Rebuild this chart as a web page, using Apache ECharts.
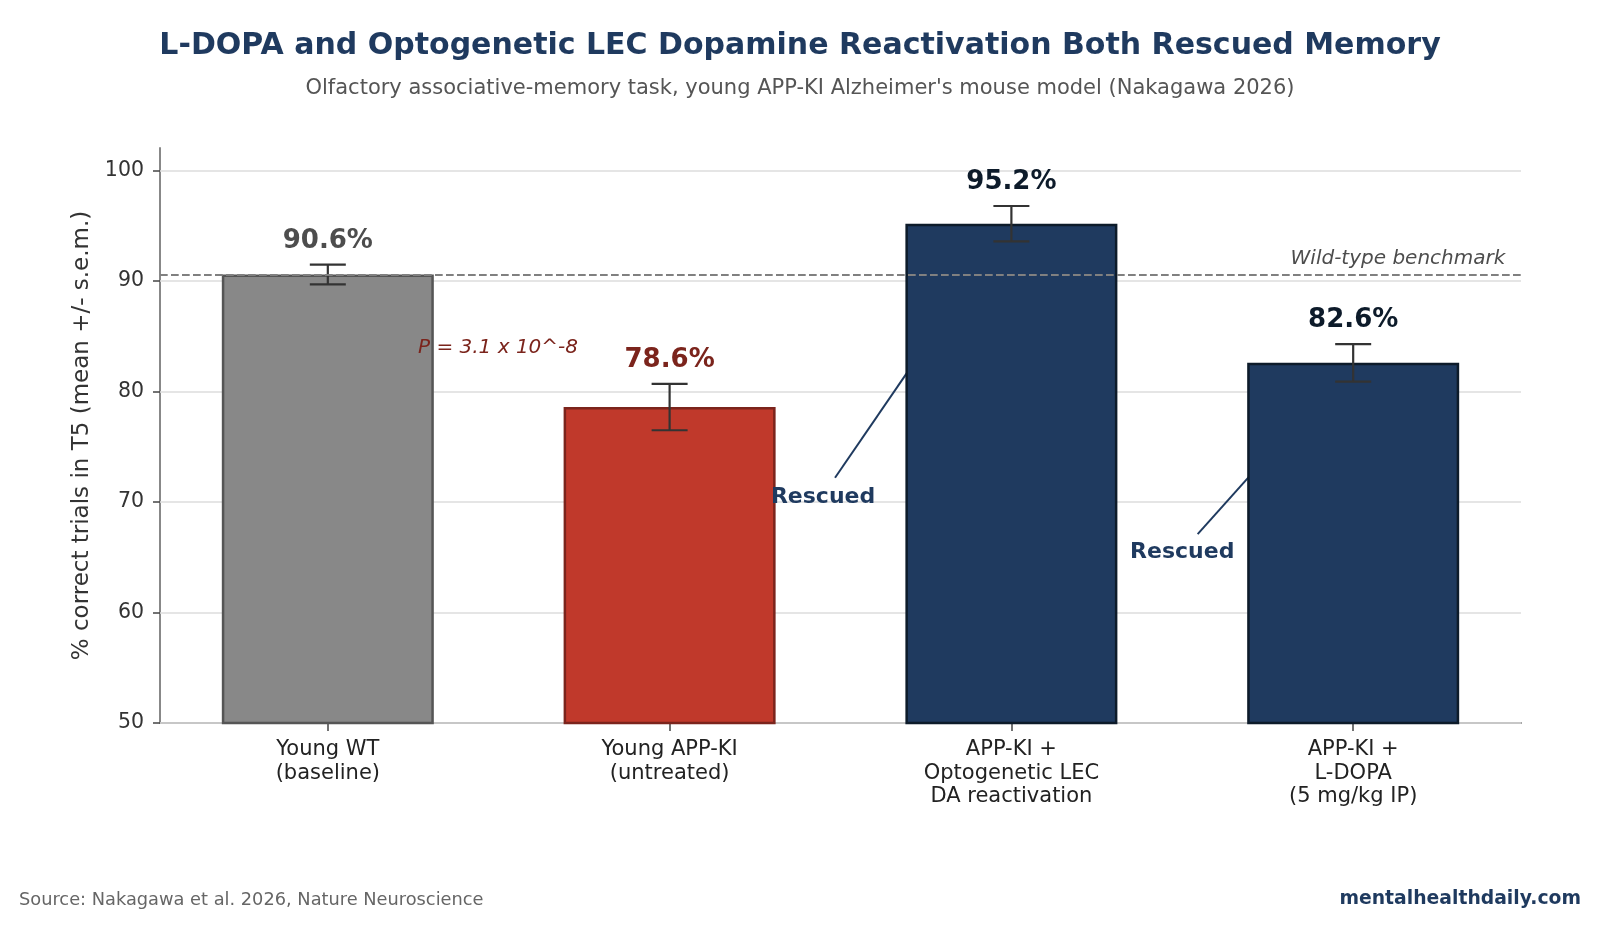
<!DOCTYPE html>
<html>
<head>
<meta charset="UTF-8">
<title>L-DOPA rescue</title>
<style>html,body{margin:0;padding:0;background:#fff;}#chart{width:1600px;height:928px;}</style>
</head>
<body>
<div id="chart"></div>
<script src="https://cdn.jsdelivr.net/npm/echarts@6/dist/echarts.min.js"></script>
<script>
// data
var groups = ['Young WT\n(baseline)', 'Young APP-KI\n(untreated)', 'APP-KI +\nOptogenetic LEC\nDA reactivation', 'APP-KI +\nL-DOPA\n(5 mg/kg IP)'];
var means = [90.6, 78.6, 95.2, 82.6];
var sems = [0.9, 2.1, 1.6, 1.7];
var yTicks = [50, 60, 70, 80, 90, 100];
var xTicks = [0, 1, 2, 3];
var wtBenchmark = 90.6;

// bar styles
var fills = ['#888888', '#c0392b', '#1f3a5f', '#1f3a5f'];
var edges = ['#555555', '#7b241c', '#0d1b2a', '#0d1b2a'];
var labelColors = ['#4d4d4d', '#7b241c', '#0d1b2a', '#0d1b2a'];

// annotations (x in bar-index units, y in % correct)
var rescueLines = [
  [[1.484, 72.2], [1.71, 82.4]],
  [[2.545, 67.1], [2.71, 72.8]]
];
var rescueText = [[1.449, 70.4], [2.5, 65.45]];
var pText = [0.498, 83.95];
var benchText = [3.445, 92.0];

var font = 'DejaVu Sans';
var chart = echarts.init(document.getElementById('chart'));

var barData = means.map(function (v, i) {
  return {value: [xTicks[i], v], itemStyle: {color: fills[i], borderColor: edges[i], borderWidth: 2.5}};
});
var errData = means.map(function (v, i) {
  return [xTicks[i], v - sems[i], v + sems[i], v];
});
var gridLines = yTicks.map(function (t) { return {yAxis: t}; });

var noteLabel = function (text, size, weight, style, color, pos) {
  return {show: true, position: pos || 'inside', distance: 0, formatter: text,
    fontFamily: font, fontSize: size, fontWeight: weight, fontStyle: style, color: color};
};

var series = [
  // horizontal grid lines, behind the bars
  {
    type: 'line', data: [], z: 0, silent: true,
    markLine: {
      symbol: 'none', silent: true, animation: false, z: 1,
      label: {show: false},
      lineStyle: {color: '#dddddd', width: 1.5, type: 'solid'},
      data: gridLines
    }
  },
  // arrows of the "Rescued" notes (tails hidden by the bars)
  {
    type: 'line', z: 1, silent: true, symbol: 'none',
    data: rescueLines[0], lineStyle: {color: '#1f3a5f', width: 2}
  },
  {
    type: 'line', z: 1, silent: true, symbol: 'none',
    data: rescueLines[1], lineStyle: {color: '#1f3a5f', width: 2}
  },
  {
    type: 'bar', data: barData, barWidth: 212, z: 2, silent: true
  },
  // error bars + value labels
  {
    type: 'custom', z: 4, silent: true,
    data: errData,
    renderItem: function (params, api) {
      var i = params.dataIndex;
      var top = api.coord([api.value(0), api.value(2)]);
      var bot = api.coord([api.value(0), api.value(1)]);
      var hw = 18;
      var st = {stroke: '#333333', lineWidth: 2.2};
      return {
        type: 'group',
        children: [
          {type: 'line', shape: {x1: top[0], y1: top[1], x2: bot[0], y2: bot[1]}, style: st},
          {type: 'line', shape: {x1: top[0] - hw, y1: top[1], x2: top[0] + hw, y2: top[1]}, style: st},
          {type: 'line', shape: {x1: bot[0] - hw, y1: bot[1], x2: bot[0] + hw, y2: bot[1]}, style: st},
          {type: 'text', style: {
            text: api.value(3).toFixed(1) + '%', x: top[0], y: top[1] - 23.5,
            align: 'center', verticalAlign: 'middle',
            font: 'bold 26px "' + font + '"', fill: labelColors[i]
          }}
        ]
      };
    },
    markLine: {
      symbol: 'none', silent: true, animation: false,
      label: {show: false},
      lineStyle: {color: '#808080', width: 2, type: [7.7, 3.3]},
      data: [{yAxis: wtBenchmark}]
    }
  },
  // text notes
  {
    type: 'scatter', z: 5, silent: true, symbolSize: 0, itemStyle: {opacity: 1},
    data: rescueText,
    label: noteLabel('Rescued', 22, 'bold', 'normal', '#1f3a5f')
  },
  {
    type: 'scatter', z: 5, silent: true, symbolSize: 0, itemStyle: {opacity: 1},
    data: [pText],
    label: noteLabel('P = 3.1 x 10^-8', 20, 'normal', 'italic', '#7b241c')
  },
  {
    type: 'scatter', z: 5, silent: true, symbolSize: 0, itemStyle: {opacity: 1},
    data: [benchText],
    label: noteLabel('Wild-type benchmark', 20, 'normal', 'italic', '#4d4d4d', 'left')
  }
];

var option = {
  backgroundColor: '#ffffff',
  animation: false,
  textStyle: {fontFamily: font},
  title: [
    {
      text: 'L-DOPA and Optogenetic LEC Dopamine Reactivation Both Rescued Memory',
      left: 'center', top: 26,
      textStyle: {fontFamily: font, fontSize: 30, fontWeight: 'bold', color: '#1f3a5f'}
    },
    {
      text: "Olfactory associative-memory task, young APP-KI Alzheimer's mouse model (Nakagawa 2026)",
      left: 'center', top: 73,
      textStyle: {fontFamily: font, fontSize: 21, fontWeight: 'normal', color: '#555555'}
    }
  ],
  grid: {left: 160, right: 79, top: 148, bottom: 205, containLabel: false},
  xAxis: {
    type: 'value', min: -0.491, max: 3.491,
    axisLine: {show: true, onZero: false, lineStyle: {color: '#888888', width: 2}},
    axisTick: {show: true, length: 8, lineStyle: {color: '#444444', width: 1.5}, customValues: xTicks},
    axisLabel: {fontFamily: font, fontSize: 21, color: '#222222', lineHeight: 23.5, margin: 15,
      customValues: xTicks, formatter: function (v) { return groups[Math.round(v)]; }},
    splitLine: {show: false}
  },
  yAxis: {
    type: 'value', min: 50, max: 102.05,
    name: '% correct trials in T5 (mean +/- s.e.m.)',
    nameLocation: 'middle', nameGap: 65, nameRotate: 90,
    nameTextStyle: {fontFamily: font, fontSize: 23, color: '#333333'},
    axisLine: {show: true, onZero: false, lineStyle: {color: '#888888', width: 2}},
    axisTick: {show: true, length: 7, lineStyle: {color: '#444444', width: 1.5}, customValues: yTicks},
    axisLabel: {fontFamily: font, fontSize: 20.5, color: '#333333', margin: 16, customValues: yTicks},
    splitLine: {show: false}
  },
  graphic: [
    {type: 'text', x: 19, y: 900,
      style: {text: 'Source: Nakagawa et al. 2026, Nature Neuroscience', font: '17.8px "' + font + '"',
        fill: '#666666', verticalAlign: 'middle'}},
    {type: 'text', x: 1581, y: 899,
      style: {text: 'mentalhealthdaily.com', font: 'bold 18.8px "' + font + '"',
        fill: '#1f3a5f', align: 'right', verticalAlign: 'middle'}}
  ],
  series: series
};
chart.setOption(option);
</script>
</body>
</html>
